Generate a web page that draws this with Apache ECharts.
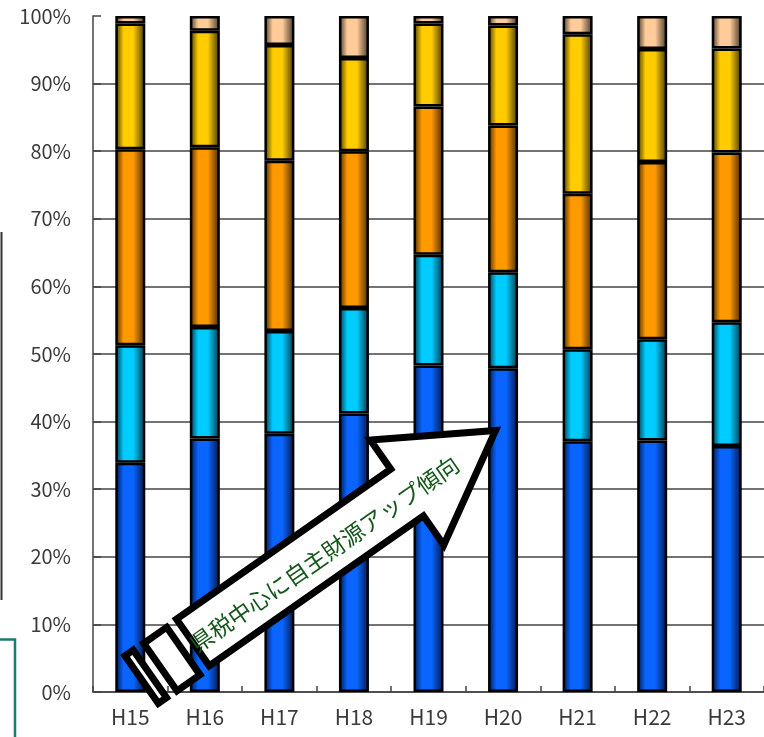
<!DOCTYPE html>
<html>
<head>
<meta charset="utf-8">
<script src="https://cdn.jsdelivr.net/npm/echarts@6/dist/echarts.min.js"></script>
<style>
  html, body { margin: 0; padding: 0; background: #ffffff; }
  #chart { width: 764px; height: 737px; }
</style>
</head>
<body>
<div id="chart"></div>
<script>
// Fiscal years
const categories = ['H15', 'H16', 'H17', 'H18', 'H19', 'H20', 'H21', 'H22', 'H23'];

// Revenue composition shares (%), stacked bottom to top
const kenzei      = [33.9, 37.5, 38.2, 41.2, 48.3, 47.9, 37.1, 37.2, 36.4];
const sonotaJishu = [17.4, 16.5, 15.2, 15.6, 16.4, 14.2, 13.6, 15.0, 18.3];
const koufuzei    = [29.0, 26.6, 25.2, 23.2, 21.9, 21.7, 23.0, 26.2, 25.1];
const kokko       = [18.6, 17.2, 17.1, 13.8, 12.3, 14.8, 23.6, 16.7, 15.4];
const kensai      = [ 1.1,  2.2,  4.3,  6.2,  1.1,  1.4,  2.7,  4.9,  4.8];

const arrowText = '県税中心に自主財源アップ傾向';

// Cylinder-like shading across each bar
function shade(bright, dark) {
  return {
    type: 'linear', x: 0, y: 0, x2: 1, y2: 0,
    colorStops: [
      { offset: 0, color: dark },
      { offset: 0.28, color: bright },
      { offset: 0.6, color: bright },
      { offset: 1, color: dark }
    ]
  };
}

const seriesDefs = [
  { name: '県税', data: kenzei, bright: '#0a64ff', dark: '#001640' },
  { name: 'その他自主財源', data: sonotaJishu, bright: '#00ccff', dark: '#003344' },
  { name: '地方交付税', data: koufuzei, bright: '#ff9900', dark: '#402600' },
  { name: '国庫支出金', data: kokko, bright: '#ffcc00', dark: '#403300' },
  { name: '県債', data: kensai, bright: '#ffcc99', dark: '#403326' }
];

const labelFont = '"Noto Sans CJK JP", "Noto Sans", sans-serif';
const deg = Math.PI / 180;
const boxStyle = { fill: '#ffffff', stroke: '#000000', lineWidth: 7, lineJoin: 'miter' };

const chart = echarts.init(document.getElementById('chart'));
chart.setOption({
  animation: false,
  backgroundColor: '#ffffff',
  grid: { left: 93, top: 16, width: 679, height: 676, containLabel: false },
  xAxis: {
    type: 'category',
    data: categories,
    axisLine: { lineStyle: { color: '#444', width: 1.5 } },
    axisTick: { show: true, inside: true, length: 6, lineStyle: { color: '#444', width: 1.5 } },
    axisLabel: { color: '#3a3a3a', fontSize: 21, fontFamily: labelFont, margin: 15 }
  },
  yAxis: {
    type: 'value',
    min: 0, max: 100, interval: 10,
    axisLine: { show: true, lineStyle: { color: '#444', width: 1.5 } },
    axisTick: { show: true, inside: true, length: 8, lineStyle: { color: '#444', width: 1.5 } },
    axisLabel: { color: '#3a3a3a', fontSize: 20, fontFamily: labelFont, margin: 22, formatter: '{value}%' },
    splitLine: { show: true, showMaxLine: false, lineStyle: { color: '#444', width: 1.5 } }
  },
  series: seriesDefs.map(s => ({
    name: s.name,
    type: 'bar',
    stack: 'share',
    barWidth: 30,
    data: s.data,
    itemStyle: { color: shade(s.bright, s.dark), borderColor: '#000', borderWidth: 2.5 }
  })),
  graphic: [
    // block arrow with broken tail
    {
      type: 'group', x: 190, y: 644.5, rotation: 35 * deg, z: 100,
      children: [
        { type: 'polygon', z: 100,
          shape: { points: [[3.5, -28.5], [265, -28.5], [265, -64], [373, 0], [265, 64], [265, 28.5], [3.5, 28.5]] },
          style: boxStyle },
        { type: 'rect', z: 100, shape: { x: -37.2, y: -27.5, width: 28, height: 58 }, style: boxStyle },
        { type: 'rect', z: 100, shape: { x: -59.7, y: -28, width: 10, height: 58 }, style: boxStyle },
        { type: 'text', z: 101, x: 162, y: 3,
          style: { text: arrowText, fill: '#15561a', fontSize: 23, fontFamily: labelFont,
                   align: 'center', verticalAlign: 'middle' } }
      ]
    },
    // neighbouring frame edges at the left margin
    { type: 'line', z: 100, shape: { x1: 1.5, y1: 232, x2: 1.5, y2: 600 },
      style: { stroke: '#333', lineWidth: 2 } },
    { type: 'polyline', z: 100, shape: { points: [[0, 639.5], [15, 639.5], [15, 737]] },
      style: { stroke: '#1f7a74', lineWidth: 2.5, fill: null } }
  ]
});
</script>
</body>
</html>
